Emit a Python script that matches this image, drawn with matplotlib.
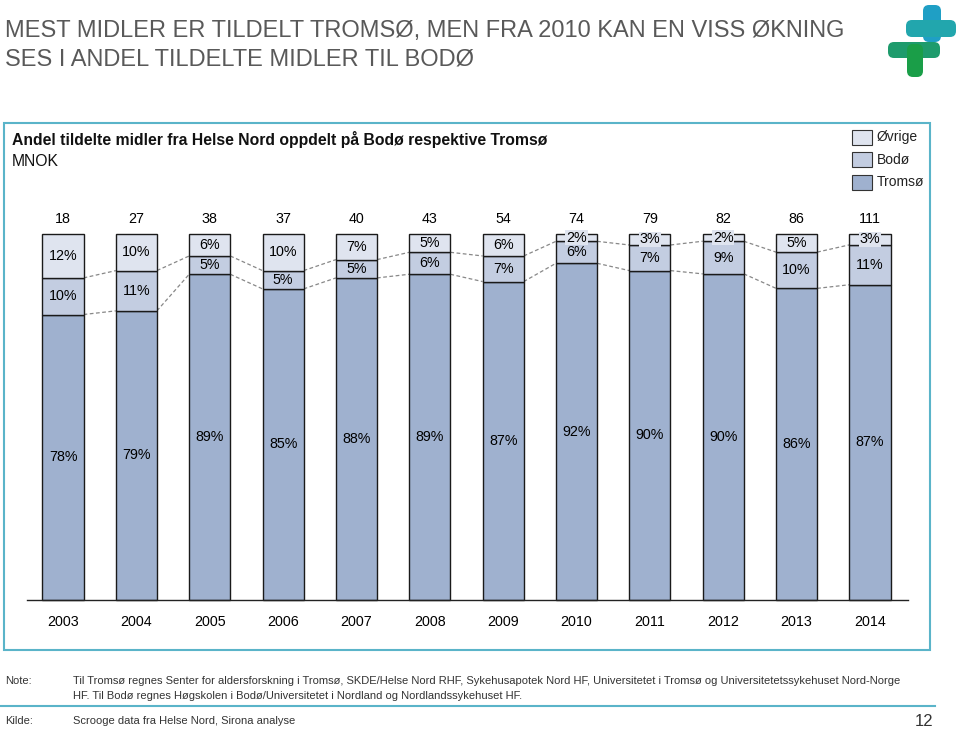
import matplotlib
matplotlib.use("Agg")
import matplotlib.pyplot as plt
from matplotlib.patches import FancyBboxPatch, Rectangle
from matplotlib.lines import Line2D
import numpy as np

plt.rcParams['font.family'] = ['Liberation Sans', 'DejaVu Sans']

years = ["2003", "2004", "2005", "2006", "2007", "2008", "2009", "2010", "2011", "2012", "2013", "2014"]
totals = [18, 27, 38, 37, 40, 43, 54, 74, 79, 82, 86, 111]
tromso = [78, 79, 89, 85, 88, 89, 87, 92, 90, 90, 86, 87]
bodo = [10, 11, 5, 5, 5, 6, 7, 6, 7, 9, 10, 11]
ovrige = [12, 10, 6, 10, 7, 5, 6, 2, 3, 2, 5, 3]
series_names = ["Øvrige", "Bodø", "Tromsø"]

c_ovr = "#dfe4ef"
c_bod = "#c3cde1"
c_tro = "#9fb1cf"
edge = "#1a1a1a"
teal = "#5ab4c9"

W, H = 960, 729
fig = plt.figure(figsize=(W / 100, H / 100), dpi=100)

def fx(px):
    return px / W

def fy(py):
    return 1 - py / H

# Title
fig.text(fx(5), fy(31), "MEST MIDLER ER TILDELT TROMSØ, MEN FRA 2010 KAN EN VISS ØKNING",
         fontsize=17, color="#595959", va="center", ha="left")
fig.text(fx(5), fy(59), "SES I ANDEL TILDELTE MIDLER TIL BODØ",
         fontsize=17, color="#595959", va="center", ha="left")

# Logo
logo_ax = fig.add_axes([fx(885), fy(80), fx(75), 80 / H])
logo_ax.set_xlim(885, 960)
logo_ax.set_ylim(80, 0)
logo_ax.axis("off")
def rbox(x0, y0, w, h, col):
    logo_ax.add_patch(FancyBboxPatch((x0, y0), w, h, boxstyle="round,pad=0,rounding_size=6",
                                     fc=col, ec="none"))
rbox(923, 5, 18, 37, "#1f9fc5")
rbox(906, 20, 50, 17, "#22a6ad")
rbox(888, 42, 52, 16, "#1e9b6c")
rbox(907, 44, 16, 33, "#1a9e48")

# Frame
fig.add_artist(Rectangle((fx(4), fy(650)), fx(926), fy(123) - fy(650), transform=fig.transFigure,
                         fill=False, ec=teal, lw=1.5))
# Bottom line
fig.add_artist(Line2D([0, fx(935)], [fy(706), fy(706)], color=teal, lw=1.5))

# Subtitle
fig.text(fx(12), fy(140), "Andel tildelte midler fra Helse Nord oppdelt på Bodø respektive Tromsø",
         fontsize=11.3, fontweight="bold", color="#111111", va="center", ha="left")
fig.text(fx(12), fy(161), "MNOK", fontsize=11.3, color="#111111", va="center", ha="left")

# Legend
for i, (name, col) in enumerate(zip(series_names, [c_ovr, c_bod, c_tro])):
    yc = 137 + i * 22.5
    fig.add_artist(Rectangle((fx(852), fy(yc + 7.5)), fx(20), fy(yc - 7.5) - fy(yc + 7.5),
                             transform=fig.transFigure, fc=col, ec="#333333", lw=0.8))
    fig.text(fx(877), fy(yc), name, fontsize=10, color="#222222", va="center", ha="left")

# Main axes
ax = fig.add_axes([fx(27), fy(600), fx(908 - 27), fy(234) - fy(600)])
x = np.arange(len(years))
tro = np.array(tromso, float)
bod = np.array(bodo, float)
ovr = np.array(ovrige, float)
s = tro + bod + ovr
tro_n, bod_n, ovr_n = tro / s * 100, bod / s * 100, ovr / s * 100
bw = 0.56
ax.bar(x, tro_n, bw, color=c_tro, edgecolor=edge, lw=1.0, clip_on=False, zorder=2)
ax.bar(x, bod_n, bw, bottom=tro_n, color=c_bod, edgecolor=edge, lw=1.0, clip_on=False, zorder=2)
ax.bar(x, ovr_n, bw, bottom=tro_n + bod_n, color=c_ovr, edgecolor=edge, lw=1.0, clip_on=False, zorder=2)

# connector lines
for b in [tro_n, tro_n + bod_n]:
    for i in range(len(x) - 1):
        ax.plot([x[i] + bw / 2, x[i + 1] - bw / 2], [b[i], b[i + 1]], ls=(0, (3, 2)),
                color="#888888", lw=0.9, zorder=1, clip_on=False)

fs = 10.3
for i in range(len(x)):
    ax.text(x[i], tro_n[i] / 2, f"{tromso[i]}%", ha="center", va="center", fontsize=fs, zorder=4)
    ax.text(x[i], tro_n[i] + bod_n[i] / 2, f"{bodo[i]}%", ha="center", va="center", fontsize=fs, zorder=4)
    ty = tro_n[i] + bod_n[i] + ovr_n[i] / 2
    if ovrige[i] < 4:
        ax.text(x[i], ty, f"{ovrige[i]}%", ha="center", va="center", fontsize=fs, zorder=4,
                bbox=dict(boxstyle="square,pad=0.05", fc=c_ovr, ec="none"))
    else:
        ax.text(x[i], ty, f"{ovrige[i]}%", ha="center", va="center", fontsize=fs, zorder=4)
    ax.annotate(str(totals[i]), (x[i], 100), xytext=(0, 11), textcoords="offset points",
                ha="center", va="center", fontsize=fs, annotation_clip=False)
    ax.annotate(years[i], (x[i], 0), xytext=(0, -15.5), textcoords="offset points",
                ha="center", va="center", fontsize=fs, annotation_clip=False)

ax.set_xlim(-36 / 73.36, -36 / 73.36 + 881 / 73.36)
ax.set_ylim(0, 100)
for sp in ["top", "right", "left"]:
    ax.spines[sp].set_visible(False)
ax.spines["bottom"].set_linewidth(1.0)
ax.spines["bottom"].set_color("#222222")
ax.set_xticks([])
ax.set_yticks([])
ax.patch.set_alpha(0)

# Notes
nfs = 8.05
fig.text(fx(5), fy(681), "Note:", fontsize=nfs, color="#333333", va="center")
fig.text(fx(73), fy(681), "Til Tromsø regnes Senter for aldersforskning i Tromsø, SKDE/Helse Nord RHF, Sykehusapotek Nord HF, "
         "Universitetet i Tromsø og Universitetetssykehuset Nord-Norge", fontsize=nfs, color="#333333", va="center")
fig.text(fx(73), fy(696), "HF. Til Bodø regnes Høgskolen i Bodø/Universitetet i Nordland og Nordlandssykehuset HF.",
         fontsize=nfs, color="#333333", va="center")
fig.text(fx(5), fy(721), "Kilde:", fontsize=nfs, color="#333333", va="center")
fig.text(fx(73), fy(721), "Scrooge data fra Helse Nord, Sirona analyse", fontsize=nfs, color="#333333", va="center")
fig.text(fx(933), fy(721), "12", fontsize=12, color="#333333", va="center", ha="right")

fig.savefig("out.png", dpi=100)
